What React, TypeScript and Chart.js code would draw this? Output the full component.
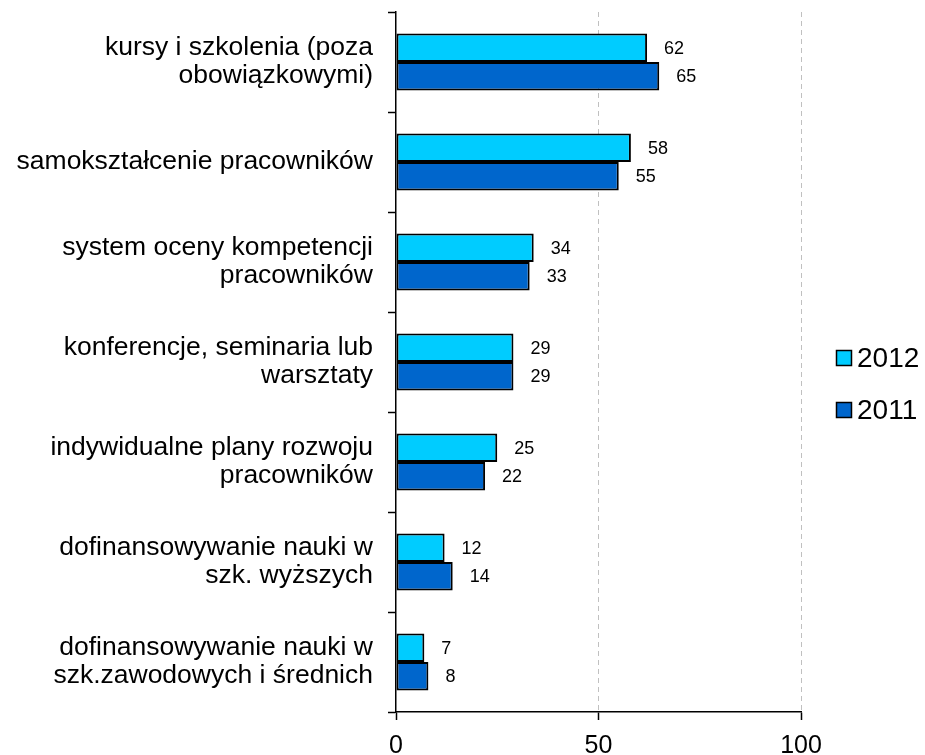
import React, { useEffect, useRef } from "react";
import { Chart, registerables } from "chart.js";

Chart.register(...registerables);

const categories: string[][] = [
  ["kursy i szkolenia (poza", "obowiązkowymi)"],
  ["samokształcenie pracowników"],
  ["system oceny kompetencji", "pracowników"],
  ["konferencje, seminaria lub", "warsztaty"],
  ["indywidualne plany rozwoju", "pracowników"],
  ["dofinansowywanie nauki w", "szk. wyższych"],
  ["dofinansowywanie nauki w", "szk.zawodowych i średnich"],
];
const series2012: number[] = [62, 58, 34, 29, 25, 12, 7];
const series2011: number[] = [65, 55, 33, 29, 22, 14, 8];
const seriesLabels: string[] = ["2012", "2011"];
const seriesColors: string[] = ["#00CCFF", "#0066CC"];
const xMin = 0;
const xMax = 100;
const xStep = 50;

const FONT = '"Liberation Sans", Arial, sans-serif';

const dataLabelPlugin = {
  id: "dataLabels",
  afterDatasetsDraw(chart: any) {
    const ctx = chart.ctx;
    ctx.save();
    ctx.font = `18px ${FONT}`;
    ctx.fillStyle = "#000";
    ctx.textAlign = "left";
    ctx.textBaseline = "middle";
    chart.data.datasets.forEach((ds: any, i: number) => {
      const meta = chart.getDatasetMeta(i);
      meta.data.forEach((el: any, j: number) => {
        ctx.fillText(String(ds.data[j]), el.x + 17, el.y + 1);
      });
    });
    ctx.restore();
  },
};

const legendPlugin = {
  id: "customLegend",
  afterDraw(chart: any) {
    const ctx = chart.ctx;
    ctx.save();
    const x0 = 836.5;
    const ys = [358, 410];
    chart.data.datasets.forEach((ds: any, i: number) => {
      const y = ys[i];
      ctx.fillStyle = ds.backgroundColor;
      ctx.fillRect(x0, y - 7.5, 15, 15);
      ctx.strokeStyle = "#000";
      ctx.lineWidth = 1.5;
      ctx.strokeRect(x0, y - 7.5, 15, 15);
      ctx.fillStyle = "#000";
      ctx.font = `28px ${FONT}`;
      ctx.textAlign = "left";
      ctx.textBaseline = "middle";
      ctx.fillText(ds.label, 857, y + 1);
    });
    ctx.restore();
  },
};

export default function App() {
  const ref = useRef<HTMLCanvasElement>(null);
  useEffect(() => {
    if (!ref.current) return;
    Chart.defaults.font.family = FONT;
    const chart = new Chart(ref.current, {
      type: "bar",
      data: {
        labels: categories,
        datasets: [
          {
            label: seriesLabels[0],
            data: series2012,
            backgroundColor: seriesColors[0],
            borderColor: "#000",
            borderWidth: 2,
            borderSkipped: false,
            categoryPercentage: 0.57,
            barPercentage: 1,
          },
          {
            label: seriesLabels[1],
            data: series2011,
            backgroundColor: seriesColors[1],
            borderColor: "#000",
            borderWidth: 2,
            borderSkipped: false,
            categoryPercentage: 0.57,
            barPercentage: 1,
          },
        ],
      },
      options: {
        indexAxis: "y",
        responsive: false,
        animation: false,
        devicePixelRatio: 1,
        layout: { padding: { top: 12, right: 124, left: 0, bottom: 0 } },
        plugins: {
          legend: { display: false },
          tooltip: { enabled: false },
        },
        scales: {
          x: {
            min: xMin,
            max: xMax,
            ticks: {
              stepSize: xStep,
              color: "#000",
              font: { size: 25, family: FONT },
              padding: 11,
              maxRotation: 0,
            },
            grid: {
              color: (c: any) => (c.tick && c.tick.value === 0 ? "rgba(0,0,0,0)" : "#c0c0c0"),
              lineWidth: 1,
              tickColor: "#000",
              tickWidth: 1.5,
              tickLength: 8,
              drawOnChartArea: true,
            },
            border: { display: true, color: "#000", width: 1.5, dash: [5, 4] },
            afterFit: (scale: any) => {
              scale.height = 43;
              scale.paddingLeft = 0;
              scale.paddingRight = 0;
            },
          },
          y: {
            offset: true,
            ticks: {
              color: "#000",
              font: { size: 26.5, family: FONT, lineHeight: 1.06 },
              padding: 15,
            },
            grid: {
              offset: true,
              drawOnChartArea: false,
              color: "#000",
              tickColor: "#000",
              tickWidth: 1.5,
              tickLength: 8,
            },
            border: { display: true, color: "#000", width: 1.5 },
            afterFit: (scale: any) => {
              scale.width = 396;
              scale.paddingTop = 0;
              scale.paddingBottom = 0;
            },
          },
        },
      },
      plugins: [dataLabelPlugin, legendPlugin],
    });
    return () => chart.destroy();
  }, []);
  return (
    <div style={{ position: "absolute", left: 0, top: 0, width: 925, height: 755, background: "#fff" }}>
      <canvas ref={ref} width={925} height={755} />
    </div>
  );
}
